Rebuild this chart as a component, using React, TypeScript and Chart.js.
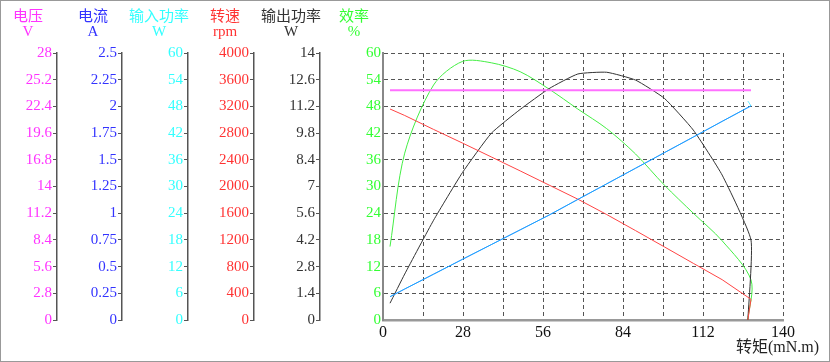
import React, { useEffect, useRef } from 'react';
import { Chart, registerables } from 'chart.js';

Chart.register(...registerables);

// ---- data ----
const torque = [2.45, 7.6, 17.7, 27.8, 37.9, 48.0, 58.1, 68.2, 78.3, 88.4, 98.5, 108.6, 118.7, 128.8, 127.7];
const voltage = [24.1, 24.1, 24.1, 24.1, 24.1, 24.1, 24.1, 24.1, 24.1, 24.1, 24.1, 24.1, 24.1, 24.1];
const current = [0.218, 0.29, 0.429, 0.568, 0.706, 0.844, 0.982, 1.129, 1.275, 1.421, 1.567, 1.713, 1.86, 2.005];
const inputPower = [5.24, 6.97, 10.29, 13.64, 16.94, 20.25, 23.57, 27.1, 30.6, 34.11, 37.61, 41.12, 44.63, 48.13, 49.21];
const speed = [3161, 3064, 2855, 2651, 2443, 2234, 2022, 1810, 1580, 1339, 1095, 849, 604, 310, 0];
const outputPower = [0.88, 2.41, 5.23, 7.73, 9.79, 11.04, 12.13, 12.9, 12.99, 12.58, 11.62, 9.96, 7.6, 4.19, 0];
const efficiency = [16.5, 37.5, 52.8, 58.1, 57.8, 55.8, 51.9, 47.4, 43.0, 37.3, 30.3, 24.0, 17.8, 9.0, 0];

// ---- tick labels ----
const voltTicks = [0, 2.8, 5.6, 8.4, 11.2, 14, 16.8, 19.6, 22.4, 25.2, 28];
const currentTicks = [0, 0.25, 0.5, 0.75, 1, 1.25, 1.5, 1.75, 2, 2.25, 2.5];
const inputTicks = [0, 6, 12, 18, 24, 30, 36, 42, 48, 54, 60];
const speedTicks = [0, 400, 800, 1200, 1600, 2000, 2400, 2800, 3200, 3600, 4000];
const outputTicks = [0, 1.4, 2.8, 4.2, 5.6, 7, 8.4, 9.8, 11.2, 12.6, 14];
const effTicks = [0, 6, 12, 18, 24, 30, 36, 42, 48, 54, 60];
const xGridTicks = [0, 14, 28, 42, 56, 70, 84, 98, 112, 126, 140];
const xLabelTicks = [0, 28, 56, 84, 112, 140];

const axisTitles = ['电压', '电流', '输入功率', '转速', '输出功率', '效率'];
const axisUnits = ['V', 'A', 'W', 'rpm', 'W', '%'];
const xTitle = '转矩(mN.m)';

const SERIF = '"Liberation Serif", "Noto Sans CJK SC", serif';
const CJK = '"Noto Sans CJK SC", sans-serif';

const pts = (ys: number[]) => ys.map((y, i) => ({ x: torque[i], y }));

export default function App() {
  const ref = useRef<HTMLCanvasElement | null>(null);

  useEffect(() => {
    document.body.style.margin = '0';
    const canvas = ref.current;
    if (!canvas) return;

    const axisDefs = [
      { id: 'yV', ticks: voltTicks, color: '#ff33ff', width: 57, weight: 6 },
      { id: 'yI', ticks: currentTicks, color: '#3333ff', width: 65, weight: 5 },
      { id: 'yP', ticks: inputTicks, color: '#33ffff', width: 66, weight: 4 },
      { id: 'yN', ticks: speedTicks, color: '#ff3333', width: 66, weight: 3 },
      { id: 'yO', ticks: outputTicks, color: '#333333', width: 66, weight: 2 },
      { id: 'yE', ticks: effTicks, color: '#33ff33', width: 63, weight: 1 },
    ];

    const scales: any = {
      x: {
        type: 'linear',
        min: 0,
        max: 140,
        afterBuildTicks: (s: any) => {
          s.ticks = xGridTicks.map((v) => ({ value: v }));
        },
        afterFit: (s: any) => {
          s.height = 42;
        },
        ticks: {
          autoSkip: false,
          maxRotation: 0,
          padding: 3,
          color: '#111',
          font: { family: SERIF, size: 16 },
          callback: (v: any) => (xLabelTicks.includes(Number(v)) ? String(v) : ''),
        },
        grid: { color: '#555', lineWidth: 1, drawTicks: false, drawOnChartArea: true },
        border: { display: true, color: '#999', width: 2.5, dash: [4, 3] },
      },
    };

    axisDefs.forEach((a) => {
      const isEff = a.id === 'yE';
      scales[a.id] = {
        type: 'linear',
        position: 'left',
        weight: a.weight,
        min: a.ticks[0],
        max: a.ticks[a.ticks.length - 1],
        afterBuildTicks: (s: any) => {
          s.ticks = a.ticks.map((v) => ({ value: v }));
        },
        afterFit: (s: any) => {
          s.width = a.width;
        },
        ticks: {
          autoSkip: false,
          padding: isEff ? 2 : 1,
          color: a.color,
          font: { family: SERIF, size: 15 },
          callback: (v: any) => String(v),
        },
        grid: {
          drawOnChartArea: isEff,
          drawTicks: !isEff,
          tickLength: 4,
          color: '#555',
          tickColor: '#555',
          lineWidth: 1,
        },
        border: isEff
          ? { display: true, color: '#888', width: 2, dash: [4, 3] }
          : { display: true, color: '#555', width: 1.5 },
      };
    });

    const titlePlugin = {
      id: 'axisTitles',
      afterDraw(chart: any) {
        const ctx = chart.ctx;
        ctx.save();
        ctx.textAlign = 'center';
        ctx.textBaseline = 'middle';
        axisDefs.forEach((a, i) => {
          const s = chart.scales[a.id];
          const cx = s.right - 29;
          ctx.fillStyle = a.color;
          ctx.font = `15px ${CJK}`;
          ctx.fillText(axisTitles[i], cx, 15);
          ctx.font = `15px ${SERIF}`;
          ctx.fillText(axisUnits[i], cx, 32);
        });
        ctx.textAlign = 'right';
        ctx.fillStyle = '#222';
        ctx.font = `16px ${SERIF}`;
        ctx.fillText(xTitle, 819, 348);
        ctx.strokeStyle = '#999';
        ctx.lineWidth = 1;
        ctx.strokeRect(0.5, 0.5, 829, 361);
        ctx.restore();
      },
    };

    const common = { pointRadius: 0, tension: 0, fill: false, borderWidth: 1 };

    const chart = new Chart(canvas, {
      type: 'line',
      data: {
        datasets: [
          { ...common, label: '电压', data: pts(voltage), yAxisID: 'yV', borderColor: '#ff70ff', borderWidth: 2 },
          { ...common, label: '输入功率', data: pts(inputPower), yAxisID: 'yP', borderColor: 'rgba(0,220,255,0.6)' },
          { ...common, label: '电流', data: pts(current), yAxisID: 'yI', borderColor: '#3355ff' },
          { ...common, label: '转速', data: pts(speed), yAxisID: 'yN', borderColor: '#ff4444' },
          { ...common, label: '输出功率', data: pts(outputPower), yAxisID: 'yO', borderColor: '#333333', tension: 0.15 },
          { ...common, label: '效率', data: pts(efficiency), yAxisID: 'yE', borderColor: '#44ee44', tension: 0.3 },
        ],
      },
      options: {
        responsive: false,
        maintainAspectRatio: false,
        animation: false,
        parsing: true,
        layout: { padding: { top: 53, right: 47, bottom: 0, left: 0 } },
        plugins: { legend: { display: false }, tooltip: { enabled: false } },
        scales,
      } as any,
      plugins: [titlePlugin],
    });

    return () => chart.destroy();
  }, []);

  return (
    <canvas ref={ref} width={830} height={362} style={{ display: 'block', width: 830, height: 362 }} />
  );
}
